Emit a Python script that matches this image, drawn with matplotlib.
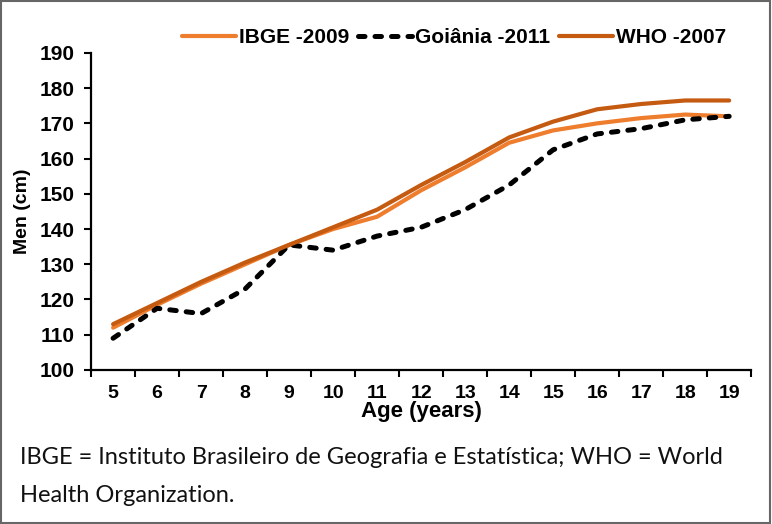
import matplotlib.pyplot as plt
from matplotlib.patches import Rectangle

# =====================================================
# DATA
# =====================================================

ages = [5, 6, 7, 8, 9, 10, 11, 12, 13, 14, 15, 16, 17, 18, 19]

ibge_2009 = [112, 118.5, 124.5, 130, 135.5, 140, 143.5, 151, 157.5,
             164.5, 168, 170, 171.5, 172.5, 172]
goiania_2011 = [109, 117.5, 116, 123, 135.5, 134, 138, 140.5, 145.5,
                152.5, 162.5, 167, 168.5, 171, 172]
who_2007 = [113, 119, 125, 130.5, 135.5, 140.5, 145.5, 152.5, 159,
            166, 170.5, 174, 175.5, 176.5, 176.5]

y_ticks = [100, 110, 120, 130, 140, 150, 160, 170, 180, 190]

caption_1 = "IBGE = Instituto Brasileiro de Geografia e Estatística; WHO = World"
caption_2 = "Health Organization."

# =====================================================
# FIGURE
# =====================================================

plt.rcParams["font.family"] = ["Liberation Sans", "DejaVu Sans"]

fig = plt.figure(figsize=(7.72, 5.24), dpi=100)
ax = fig.add_axes([0.118, 0.294, 0.855, 0.605])

ax.plot(ages, ibge_2009, color="#EE7D2E", lw=3, label="IBGE -2009",
        solid_capstyle="round")
ax.plot(ages, goiania_2011, color="black", lw=3.6, ls=(0, (1.3, 2.0)),
        label="Goiânia -2011", dash_capstyle="round")
ax.plot(ages, who_2007, color="#C55A11", lw=3, label="WHO -2007",
        solid_capstyle="round")

ax.set_xlim(4.5, 19.5)
ax.set_ylim(100, 190)
ax.set_yticks(y_ticks)

# category axis: ticks between the ages, labels in the middle
ax.set_xticks([a - 0.5 for a in ages] + [19.5])
ax.set_xticklabels([])
ax.set_xticks(ages, minor=True)
ax.set_xticklabels([str(a) for a in ages], minor=True,
                   fontsize=14, fontweight="bold")
ax.tick_params(axis="x", which="minor", length=0, pad=11)
ax.tick_params(axis="x", which="major", length=5, width=1.5)
ax.tick_params(axis="y", length=5, width=1.5, pad=7)

for lbl in ax.get_yticklabels():
    lbl.set_fontsize(15)
    lbl.set_fontweight("bold")

for s in ["top", "right"]:
    ax.spines[s].set_visible(False)
for s in ["left", "bottom"]:
    ax.spines[s].set_linewidth(1.6)

ax.set_xlabel("Age (years)", fontsize=16, fontweight="bold", labelpad=-1)
ax.set_ylabel("Men (cm)", fontsize=14, fontweight="bold", labelpad=6)

ax.legend(loc="lower center", bbox_to_anchor=(0.55, 0.985), ncol=3,
          frameon=False, prop={"weight": "bold", "size": 15},
          handlelength=2.6, handletextpad=0.15, columnspacing=0.4,
          borderaxespad=0.1)

fig.text(0.026, 1 - 458 / 524, caption_1, fontsize=17, family="Lato",
         fontweight="normal", color="#111111", va="center", ha="left")
fig.text(0.026, 1 - 496 / 524, caption_2, fontsize=17, family="Lato",
         fontweight="normal", color="#111111", va="center", ha="left")

fig.patches.append(Rectangle((0.001, 0.002), 0.997, 0.996,
                             transform=fig.transFigure, fill=False,
                             edgecolor="#666666", lw=1.5))

plt.savefig("out.png", dpi=100)
